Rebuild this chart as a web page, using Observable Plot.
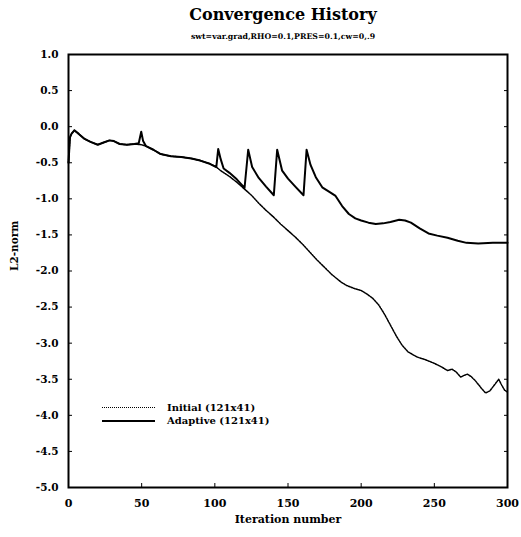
<!DOCTYPE html>
<html>
<head>
<meta charset="utf-8">
<script src="https://cdn.jsdelivr.net/npm/d3@7"></script>
<script src="https://cdn.jsdelivr.net/npm/@observablehq/plot@0.6"></script>
<style>
  html, body { margin: 0; padding: 0; background: #fff; }
  #wrap { position: relative; width: 521px; height: 537px; font-family: "DejaVu Serif", serif; font-weight: bold; color: #000; }
  .title { position: absolute; left: 0; width: 566px; text-align: center; top: 5px; font-size: 16px; line-height: 20px; }
  .subtitle { position: absolute; left: 0; width: 566px; text-align: center; top: 31px; font-size: 7.8px; line-height: 12px; }
  .legend { position: absolute; left: 102px; top: 401px; font-size: 10px; }
  .legend .row { display: flex; align-items: center; height: 13px; }
  .legend .sw { width: 53px; margin-right: 12px; }
  .legend .dotted { border-top: 1.5px dotted #000; }
  .legend .solid { border-top: 2px solid #000; }
  #chart { position: absolute; left: 0; top: 0; }
</style>
</head>
<body>
<div id="wrap">
  <div id="chart"></div>
  <div class="title">Convergence History</div>
  <div class="subtitle">swt=var.grad,RHO=0.1,PRES=0.1,cw=0,.9</div>
  <div class="legend" id="legend"></div>
</div>
<script>
const xTicks = [0, 50, 100, 150, 200, 250, 300];
const yTicks = [1.0, 0.5, 0.0, -0.5, -1.0, -1.5, -2.0, -2.5, -3.0, -3.5, -4.0, -4.5, -5.0];

const seriesNames = ["Initial (121x41)", "Adaptive (121x41)"];

const initialIter = [0, 1, 2, 4, 7, 11, 15, 20, 24, 28, 31, 35, 40, 45, 50, 53, 58, 63, 70, 77, 84, 90, 96, 101,
  104, 110, 115, 120, 125, 130, 135, 140, 145, 150, 155, 160, 165, 170, 175, 180, 186, 190, 195, 200,
  204, 208, 212, 216, 220, 224, 228, 232, 238, 244, 250, 255, 259, 262, 265, 268, 270, 272.5, 275, 278,
  282, 285, 288, 291, 294, 296, 298, 300];
const initialL2 = [-0.5, -0.15, -0.1, -0.05, -0.1, -0.17, -0.21, -0.25, -0.22, -0.19, -0.2, -0.24, -0.25, -0.24, -0.25, -0.27, -0.32, -0.38, -0.41, -0.42, -0.44, -0.47, -0.51, -0.56,
  -0.61, -0.69, -0.77, -0.86, -0.95, -1.06, -1.16, -1.25, -1.35, -1.44, -1.53, -1.63, -1.74, -1.85, -1.95, -2.05, -2.15, -2.2, -2.24, -2.27,
  -2.32, -2.38, -2.47, -2.6, -2.75, -2.9, -3.03, -3.12, -3.19, -3.23, -3.28, -3.33, -3.38, -3.36, -3.4, -3.47, -3.45, -3.43, -3.46, -3.52,
  -3.62, -3.69, -3.66, -3.58, -3.5, -3.58, -3.65, -3.68];

const adaptiveIter = [0, 1, 2, 4, 7, 11, 15, 20, 24, 28, 31, 35, 40, 45, 48, 49.7, 51, 53, 58, 63, 70, 77, 84, 90, 96, 101,
  102.3, 104, 106, 110, 115, 120.3, 122.8, 125.5, 130, 135, 140.3, 142.6, 146, 150, 155, 160.6, 162.7, 165.4, 169, 173.4,
  178, 182.5, 187, 191.6, 196, 200, 205, 210, 215, 220, 226, 230, 234, 240, 246, 252, 259, 266, 272, 280, 290, 300];
const adaptiveL2 = [-0.5, -0.15, -0.1, -0.05, -0.1, -0.17, -0.21, -0.25, -0.22, -0.19, -0.2, -0.24, -0.25, -0.24, -0.23, -0.07, -0.2, -0.27, -0.32, -0.38, -0.41, -0.42, -0.44, -0.47, -0.51, -0.56,
  -0.31, -0.45, -0.58, -0.64, -0.73, -0.85, -0.32, -0.56, -0.71, -0.83, -0.95, -0.32, -0.61, -0.72, -0.83, -0.95, -0.32, -0.53, -0.7, -0.84,
  -0.9, -0.96, -1.1, -1.21, -1.27, -1.3, -1.33, -1.35, -1.34, -1.32, -1.29, -1.3, -1.33, -1.41, -1.48, -1.51, -1.54, -1.58, -1.61, -1.62, -1.61, -1.61];

const initial = initialIter.map((x, i) => ({x, y: initialL2[i]}));
const adaptive = adaptiveIter.map((x, i) => ({x, y: adaptiveL2[i]}));

const fmtY = d => d3.format(".1f")(d).replace("−", "-");

const chart = Plot.plot({
  width: 521,
  height: 537,
  marginTop: 54,
  marginLeft: 68,
  marginRight: 14,
  marginBottom: 50,
  x: {domain: [0, 300]},
  y: {domain: [-5, 1]},
  style: {fontFamily: "DejaVu Serif", fontWeight: "bold", fontSize: "10.5px", background: "white", color: "black"},
  marks: [
    Plot.axisX({ticks: xTicks, tickSize: -4, tickPadding: 16, tickFormat: d => String(d), label: null, fontSize: 11}),
    Plot.axisY({ticks: yTicks, tickSize: -4, tickPadding: 14, tickFormat: fmtY, label: null, fontSize: 10.5}),
    Plot.axisY({ticks: yTicks, anchor: "right", tickSize: -4, tickFormat: () => "", label: null}),
    Plot.frame({stroke: "black", strokeWidth: 2}),
    Plot.line(initial, {x: "x", y: "y", stroke: "black", strokeWidth: 1.5, strokeDasharray: "1.6,1.1"}),
    Plot.line(adaptive, {x: "x", y: "y", stroke: "black", strokeWidth: 2}),
    Plot.text(["L2-norm"], {text: d => d, frameAnchor: "left", rotate: -90, dx: -54, fontSize: 10.5}),
    Plot.text(["Iteration number"], {text: d => d, frameAnchor: "bottom", dy: 35, fontSize: 11})
  ]
});
document.getElementById("chart").appendChild(chart);

const legend = document.getElementById("legend");
const styles = ["dotted", "solid"];
seriesNames.forEach((name, i) => {
  const row = document.createElement("div");
  row.className = "row";
  row.innerHTML = `<div class="sw ${styles[i]}"></div><span>${name}</span>`;
  legend.appendChild(row);
});
</script>
</body>
</html>
